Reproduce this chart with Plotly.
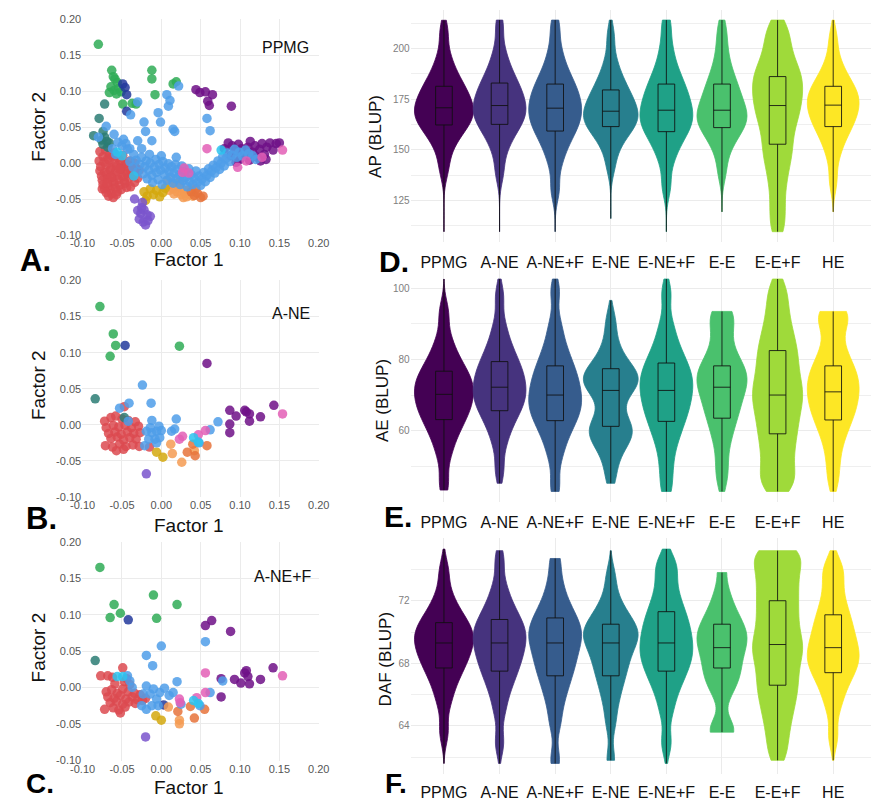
import plotly.graph_objects as go

W, H = 881, 807
FONT = "Liberation Sans, Arial, sans-serif"

# ---------------- data : factor plots ----------------
factor_ticks = [-0.10, -0.05, 0.00, 0.05, 0.10, 0.15, 0.20]
factor_ticktext = ["-0.10", "-0.05", "0.00", "0.05", "0.10", "0.15", "0.20"]

C_RED, C_GREEN, C_DBLUE, C_TEAL = "#dc4a50", "#2fac56", "#233a9c", "#2c7c74"
C_LBLUE, C_CYAN, C_PURPLE, C_PINK = "#4f9de9", "#2cc3ee", "#6f1187", "#e35fb6"
C_YELLOW, C_ORANGE, C_DORANGE, C_LAV = "#d4a80e", "#f59b52", "#e6733b", "#7a55cc"

# Panel A (PPMG)
red_A = [(-0.078, 0.016), (-0.071, 0.018), (-0.066, 0.012), (-0.060, 0.014),
         (-0.074, 0.009), (-0.068, 0.006), (-0.062, 0.010), (-0.055, 0.007), (-0.049, 0.011),
         (-0.079, 0.003), (-0.073, 0.001), (-0.066, 0.004), (-0.059, 0.000), (-0.052, 0.002),
         (-0.046, -0.001), (-0.040, 0.003), (-0.034, 0.000),
         (-0.077, -0.005), (-0.070, -0.003), (-0.064, -0.007), (-0.057, -0.004), (-0.050, -0.006),
         (-0.044, -0.002), (-0.037, -0.005), (-0.031, -0.008),
         (-0.078, -0.011), (-0.072, -0.013), (-0.065, -0.010), (-0.058, -0.012), (-0.051, -0.009),
         (-0.045, -0.014), (-0.039, -0.011), (-0.033, -0.013), (-0.028, -0.010),
         (-0.076, -0.018), (-0.069, -0.016), (-0.063, -0.020), (-0.056, -0.017), (-0.049, -0.019),
         (-0.043, -0.015), (-0.036, -0.018), (-0.030, -0.021),
         (-0.075, -0.024), (-0.068, -0.022), (-0.061, -0.026), (-0.054, -0.023), (-0.047, -0.025),
         (-0.041, -0.021), (-0.034, -0.027),
         (-0.074, -0.030), (-0.067, -0.032), (-0.060, -0.029), (-0.053, -0.031), (-0.046, -0.028),
         (-0.039, -0.033),
         (-0.072, -0.036), (-0.065, -0.038), (-0.058, -0.035), (-0.051, -0.037), (-0.044, -0.034),
         (-0.070, -0.041), (-0.063, -0.043), (-0.056, -0.040),
         (-0.067, -0.046), (-0.061, -0.048),
         (-0.075, -0.036), (-0.057, -0.044), (-0.064, -0.020), (-0.053, -0.008), (-0.069, -0.028)]
green_A = [(-0.080, 0.165), (-0.063, 0.129), (-0.059, 0.117), (-0.056, 0.112), (-0.064, 0.106),
           (-0.060, 0.101), (-0.054, 0.104), (-0.066, 0.098), (-0.057, 0.096), (-0.051, 0.099),
           (-0.049, 0.082), (-0.037, 0.083), (-0.032, 0.082), (-0.012, 0.129), (-0.012, 0.117),
           (-0.008, 0.095), (0.015, 0.110), (0.019, 0.113), (-0.061, 0.120)]
dblue_A = [(-0.049, 0.110), (-0.044, 0.095), (-0.044, 0.072), (-0.046, 0.105)]
teal_A = [(-0.072, 0.082), (-0.079, 0.062), (-0.086, 0.038), (-0.074, 0.044), (-0.072, 0.036),
          (-0.069, 0.030), (-0.074, 0.026), (-0.068, 0.022), (-0.076, 0.032), (-0.066, 0.028)]
orange_A = [(0.008, -0.024), (0.012, -0.030), (0.015, -0.036), (0.018, -0.028), (0.020, -0.040),
            (0.022, -0.033), (0.025, -0.044), (0.027, -0.037), (0.030, -0.042), (0.032, -0.047),
            (0.034, -0.038), (0.036, -0.044), (0.038, -0.035), (0.040, -0.046), (0.016, -0.043),
            (0.010, -0.038), (0.028, -0.048), (0.024, -0.025)]
dorange_A = [(0.038, -0.040), (0.042, -0.045), (0.046, -0.042), (0.050, -0.048), (0.053, -0.046),
             (0.044, -0.036)]
yellow_A = [(-0.022, -0.040), (-0.018, -0.046), (-0.014, -0.036), (-0.010, -0.044), (-0.006, -0.038),
            (-0.002, -0.047), (0.002, -0.041), (0.005, -0.035), (-0.020, -0.052)]
lav_A = [(-0.034, -0.050), (-0.024, -0.055), (-0.030, -0.066), (-0.026, -0.070), (-0.022, -0.065),
         (-0.018, -0.072), (-0.028, -0.078), (-0.023, -0.082), (-0.017, -0.080), (-0.014, -0.074),
         (-0.020, -0.086), (-0.025, -0.062)]
purple_A = [(0.044, 0.102), (0.049, 0.098), (0.056, 0.099), (0.065, 0.095), (0.059, 0.086),
            (0.061, 0.080), (0.089, 0.079),
            (0.080, 0.020), (0.085, 0.028), (0.090, 0.024), (0.094, 0.017), (0.098, 0.026),
            (0.102, 0.020), (0.106, 0.012), (0.110, 0.022), (0.113, 0.030), (0.116, 0.015),
            (0.119, 0.024), (0.122, 0.008), (0.125, 0.019), (0.128, 0.027), (0.131, 0.012),
            (0.134, 0.022), (0.138, 0.028), (0.142, 0.018), (0.146, 0.027), (0.150, 0.028),
            (0.100, 0.005), (0.112, 0.004), (0.126, 0.003), (0.088, 0.010), (0.133, 0.005),
            (0.095, 0.001)]
lblue_A = [(-0.040, 0.002), (-0.036, -0.006), (-0.032, 0.004), (-0.030, -0.012), (-0.027, -0.002),
           (-0.025, 0.008), (-0.023, -0.015), (-0.021, -0.005), (-0.019, 0.003), (-0.018, -0.022),
           (-0.016, -0.010), (-0.014, 0.000), (-0.012, -0.017), (-0.011, -0.027), (-0.009, -0.006),
           (-0.007, 0.005), (-0.006, -0.013), (-0.004, -0.023), (-0.003, -0.002), (-0.001, -0.010),
           (0.001, -0.030), (0.002, 0.002), (0.004, -0.016), (0.005, -0.007), (0.007, -0.024),
           (0.009, -0.001), (0.010, -0.012), (0.012, -0.020), (0.013, -0.005), (0.015, -0.028),
           (0.016, -0.014), (0.018, -0.002), (0.019, -0.022), (0.021, -0.009), (0.023, -0.017),
           (0.024, -0.030), (0.026, -0.004), (0.028, -0.024), (0.029, -0.012), (0.031, -0.020),
           (0.033, -0.033), (0.035, -0.008), (0.036, -0.026), (0.038, -0.016), (0.040, -0.030),
           (0.042, -0.021), (0.044, -0.011), (0.046, -0.027), (0.048, -0.018), (0.050, -0.031),
           (0.052, -0.022), (0.054, -0.013), (0.056, -0.026), (0.058, -0.017), (0.060, -0.008),
           (0.062, -0.020), (0.064, -0.011), (0.066, -0.003), (0.068, -0.014), (0.070, -0.006),
           (0.072, 0.003), (0.074, -0.009), (0.076, 0.000), (0.078, 0.009), (0.080, -0.004),
           (0.082, 0.006), (0.084, 0.014), (0.087, 0.002), (0.090, 0.011), (0.093, 0.019),
           (0.096, 0.008), (0.099, 0.015), (0.103, 0.010), (0.107, 0.018), (0.111, 0.013),
           (0.116, 0.010), (0.120, 0.005),
           (-0.060, 0.040), (-0.070, 0.051), (-0.080, 0.036), (-0.055, 0.029), (-0.050, 0.024),
           (-0.045, 0.027), (-0.043, 0.019), (-0.048, 0.033), (-0.030, 0.031), (-0.012, 0.031),
           (-0.039, 0.067), (-0.030, 0.085), (-0.022, 0.057), (-0.020, 0.044), (-0.004, 0.070),
           (-0.001, 0.057), (0.007, 0.095), (0.011, 0.087), (0.009, 0.079), (0.015, 0.047),
           (0.017, 0.044), (0.022, 0.107), (0.019, 0.008), (0.058, 0.062), (0.062, 0.045),
           (-0.035, 0.012), (-0.040, 0.020), (-0.025, 0.020), (-0.015, 0.012), (0.000, 0.010),
           (-0.058, 0.012), (-0.062, 0.020)]
pink_A = [(0.058, 0.020), (0.029, -0.007), (0.027, -0.013), (0.097, -0.006), (0.128, 0.008),
          (0.154, 0.018), (0.035, -0.014), (0.108, 0.003)]
cyan_A = [(-0.056, 0.015), (-0.035, -0.018), (0.076, 0.018), (-0.050, 0.010)]

# Panel B (A-NE)
red_B = [(-0.072, 0.005), (-0.064, 0.010), (-0.058, 0.012), (-0.050, 0.008), (-0.042, 0.006),
         (-0.033, 0.004), (-0.047, 0.025),
         (-0.070, -0.004), (-0.061, -0.001), (-0.054, -0.003), (-0.046, -0.001), (-0.038, -0.004),
         (-0.029, -0.002),
         (-0.067, -0.012), (-0.059, -0.010), (-0.051, -0.013), (-0.043, -0.010), (-0.035, -0.012),
         (-0.027, -0.011),
         (-0.064, -0.019), (-0.056, -0.017), (-0.048, -0.021), (-0.040, -0.018), (-0.032, -0.020),
         (-0.071, -0.029), (-0.062, -0.031), (-0.053, -0.027), (-0.045, -0.030), (-0.036, -0.028),
         (-0.028, -0.030), (-0.057, -0.036), (-0.048, -0.034), (-0.015, -0.031)]
green_B = [(-0.078, 0.164), (-0.061, 0.126), (-0.058, 0.110), (-0.065, 0.095), (0.023, 0.109)]
dblue_B = [(-0.046, 0.110)]
teal_B = [(-0.084, 0.036), (-0.047, 0.010)]
orange_B = [(0.012, -0.027), (0.014, -0.040), (0.026, -0.052), (0.042, -0.036)]
dorange_B = [(0.033, -0.038), (0.043, -0.043), (0.058, -0.029), (0.040, -0.027)]
yellow_B = [(-0.006, -0.038), (0.002, -0.045)]
lav_B = [(-0.019, -0.068)]
purple_B = [(0.058, 0.085), (0.087, 0.020), (0.095, 0.012), (0.087, 0.001), (0.087, -0.011),
            (0.106, 0.020), (0.108, 0.018), (0.112, 0.015), (0.112, 0.005), (0.126, 0.011),
            (0.143, 0.027)]
lblue_B = [(-0.024, 0.055), (-0.041, 0.030), (-0.053, 0.023), (-0.013, 0.030), (-0.012, 0.006),
           (-0.042, 0.005), (0.019, 0.008), (0.072, 0.004), (0.062, -0.007), (0.013, -0.009),
           (0.017, -0.006), (-0.019, -0.009), (-0.012, -0.011), (-0.006, -0.009), (0.000, -0.008),
           (-0.016, -0.020), (-0.008, -0.020), (-0.002, -0.018), (-0.006, -0.025), (-0.021, -0.029),
           (0.048, -0.025), (-0.014, -0.004), (-0.003, -0.002)]
pink_B = [(0.023, -0.020), (0.027, -0.016), (0.047, -0.014), (0.056, -0.008), (0.154, 0.015)]
cyan_B = [(0.041, -0.018), (0.047, -0.024)]

# Panel C (A-NE+F)
red_C = [(-0.077, 0.016), (-0.068, 0.016), (-0.062, 0.014), (-0.049, 0.027), (-0.047, 0.008),
         (-0.040, 0.004),
         (-0.070, -0.006), (-0.063, -0.003), (-0.056, -0.008), (-0.049, -0.002), (-0.042, -0.006),
         (-0.034, -0.008), (-0.027, -0.010),
         (-0.068, -0.013), (-0.060, -0.015), (-0.052, -0.011), (-0.045, -0.016), (-0.037, -0.013),
         (-0.030, -0.017),
         (-0.065, -0.021), (-0.057, -0.019), (-0.049, -0.023), (-0.041, -0.020), (-0.033, -0.022),
         (-0.072, -0.030), (-0.061, -0.028), (-0.054, -0.031), (-0.046, -0.027), (-0.052, -0.035),
         (-0.059, 0.005), (-0.044, 0.012), (-0.020, -0.015), (-0.024, -0.018)]
green_C = [(-0.078, 0.165), (-0.060, 0.114), (-0.065, 0.096), (-0.052, 0.102), (-0.010, 0.127),
           (-0.006, 0.095), (0.020, 0.114)]
dblue_C = [(-0.042, 0.093), (0.003, -0.024)]
teal_C = [(-0.084, 0.037)]
orange_C = [(0.009, -0.027), (0.023, -0.045), (0.023, -0.050)]
dorange_C = [(0.021, -0.033), (0.037, -0.026), (0.042, -0.042), (0.055, -0.030)]
yellow_C = [(-0.007, -0.039), (0.000, -0.045)]
lav_C = [(-0.020, -0.068)]
purple_C = [(0.056, 0.085), (0.064, 0.092), (0.088, 0.077), (0.076, 0.012), (0.076, -0.013),
            (0.093, 0.011), (0.101, 0.006), (0.106, 0.020), (0.108, 0.023), (0.110, 0.015),
            (0.112, 0.005), (0.126, 0.011), (0.142, 0.027)]
lblue_C = [(0.000, 0.057), (-0.019, 0.044), (-0.011, 0.030), (0.056, 0.063), (0.020, 0.008),
           (0.078, 0.009), (0.062, -0.007), (-0.043, 0.016), (-0.040, 0.009), (-0.019, 0.002),
           (-0.010, -0.002), (-0.002, -0.007), (0.004, -0.001), (-0.023, -0.009), (-0.014, -0.009),
           (-0.006, -0.016), (-0.025, -0.025), (-0.019, -0.030), (-0.012, -0.025), (-0.004, -0.025),
           (0.010, -0.011), (0.015, -0.007), (0.025, -0.023), (0.049, -0.025), (-0.037, 0.000)]
pink_C = [(0.056, 0.020), (0.056, -0.007), (0.154, 0.016), (0.023, -0.016), (0.045, -0.014),
          (0.024, -0.021)]
cyan_C = [(-0.056, 0.015), (-0.049, 0.015), (0.041, -0.018), (0.047, -0.022)]

# ---------------- data : violin plots ----------------
groups = ["PPMG", "A-NE", "A-NE+F", "E-NE", "E-NE+F", "E-E", "E-E+F", "HE"]
viridis8 = ["#440154", "#46337E", "#365C8D", "#277F8E", "#1FA187", "#4AC16D", "#9FDA3A", "#FDE725"]

ap_PPMG = [140.5, 149.9, 154.9, 158.2, 160.7, 162.8, 164.5, 166.2, 167.7, 169.2, 170.7,
           172.6, 174.5, 176.4, 178.4, 180.6, 183.1, 186.2, 190.3, 196.6, 208.4]
ap_ANE = [138.7, 149.0, 154.5, 158.1, 160.9, 163.1, 165.0, 166.8, 168.5, 170.1, 171.8,
          173.8, 175.8, 177.7, 179.9, 182.2, 184.8, 188.1, 192.4, 199.0, 211.4]
ap_ANEF = [130.2, 142.8, 149.5, 153.9, 157.2, 159.9, 162.3, 164.5, 166.5, 168.5, 170.5,
           172.6, 174.7, 176.9, 179.2, 181.7, 184.5, 188.0, 192.6, 199.7, 211.0]
ap_ENE = [141.9, 150.4, 154.9, 157.8, 160.1, 161.9, 163.5, 164.9, 166.3, 167.6, 169.0,
          170.9, 172.7, 174.6, 176.6, 178.8, 181.3, 184.4, 188.5, 194.7, 206.4]
ap_ENEF = [131.8, 143.6, 149.9, 154.0, 157.1, 159.6, 161.8, 163.8, 165.7, 167.6, 169.5,
           171.8, 174.1, 176.4, 178.9, 181.5, 184.6, 188.4, 193.4, 201.0, 212.0]
ap_EE = [138.8, 148.4, 153.5, 156.8, 159.4, 161.4, 163.2, 164.9, 166.4, 168.0, 169.5,
         171.8, 174.1, 176.4, 178.9, 181.5, 184.6, 188.4, 193.4, 201.0, 210.0]
ap_EEF = [112.0, 122.0, 132.0, 140.0, 146.0, 151.0, 156.0, 161.0, 165.0, 168.5, 171.8,
          175.0, 178.0, 181.0, 184.0, 187.0, 190.0, 194.0, 199.0, 205.0, 211.0]
ap_HE = [134.3, 146.1, 152.4, 156.5, 159.6, 162.1, 164.3, 166.3, 168.2, 170.1, 172.0,
         173.7, 175.3, 177.0, 178.8, 180.7, 182.9, 185.7, 189.3, 194.8, 205.1]

ae_PPMG = [45.0, 52.9, 57.1, 59.8, 61.9, 63.6, 65.1, 66.4, 67.7, 68.9, 70.2,
           71.4, 72.5, 73.7, 74.9, 76.2, 77.8, 79.7, 82.2, 86.0, 93.2]
ae_ANE = [48.7, 56.0, 59.9, 62.5, 64.5, 66.0, 67.4, 68.7, 69.8, 71.0, 72.2,
          73.5, 74.8, 76.1, 77.4, 78.9, 80.7, 82.8, 85.6, 89.9, 97.9]
ae_ANEF = [44.3, 52.3, 56.6, 59.4, 61.5, 63.3, 64.8, 66.1, 67.4, 68.7, 70.0,
           71.5, 72.9, 74.4, 76.0, 77.7, 79.6, 82.1, 85.3, 90.1, 99.3]
ae_ENE = [47.0, 52.5, 55.5, 57.5, 59.0, 60.0, 61.0, 62.3, 65.0, 68.5, 71.3,
          72.3, 73.2, 74.1, 75.0, 76.0, 77.2, 78.8, 81.0, 85.0, 91.0]
ae_ENEF = [44.0, 50.0, 55.2, 58.5, 61.1, 63.2, 65.0, 66.7, 68.2, 69.8, 71.3,
           72.7, 74.0, 75.4, 76.9, 78.5, 80.3, 82.6, 85.6, 90.1, 98.7]
ae_EE = [46.0, 50.9, 56.1, 59.4, 62.0, 64.1, 65.9, 67.6, 69.1, 70.7, 72.2,
         73.3, 74.3, 75.4, 76.6, 77.8, 79.2, 81.0, 83.3, 86.9, 90.0, 92.5, 93.5]
ae_EEF = [44.0, 46.0, 49.0, 52.5, 55.5, 58.5, 61.0, 63.5, 66.0, 68.0, 70.0,
          72.0, 74.0, 76.5, 79.0, 81.5, 84.0, 87.0, 90.5, 95.0, 100.0]
ae_HE = [46.0, 51.6, 56.3, 59.3, 61.7, 63.5, 65.2, 66.7, 68.1, 69.5, 70.9,
         72.2, 73.5, 74.8, 76.2, 77.7, 79.4, 81.6, 84.4, 88.7, 91.5, 93.0, 93.5]

daf_PPMG = [63.6, 65.4, 66.3, 66.95, 67.43, 67.81, 68.14, 68.45, 68.73, 69.02, 69.3,
            69.53, 69.76, 69.99, 70.25, 70.52, 70.82, 71.21, 71.71, 72.48, 73.93]
daf_ANE = [62.9, 64.9, 66.0, 66.66, 67.19, 67.62, 67.99, 68.34, 68.66, 68.98, 69.3,
           69.57, 69.84, 70.10, 70.39, 70.70, 71.06, 71.51, 72.09, 72.98, 74.65]
daf_ANEF = [61.8, 64.15, 65.4, 66.21, 66.84, 67.33, 67.77, 68.18, 68.55, 68.93, 69.3,
            69.58, 69.87, 70.15, 70.46, 70.79, 71.17, 71.65, 72.26, 73.21, 74.6]
daf_ENE = [61.8, 64.15, 65.4, 66.21, 66.84, 67.33, 67.77, 68.18, 68.55, 68.93, 69.3,
           69.51, 69.73, 69.94, 70.17, 70.42, 70.71, 71.06, 71.53, 72.24, 73.57]
daf_ENEF = [62.9, 64.9, 66.0, 66.66, 67.19, 67.62, 67.99, 68.34, 68.66, 68.98, 69.3,
            69.66, 70.01, 70.37, 70.76, 71.17, 71.65, 72.24, 73.01, 74.0, 74.5]
daf_EE = [63.6, 63.7, 63.8, 65.9, 66.6, 67.0, 67.4, 67.8, 68.2, 68.6, 69.0,
          69.27, 69.54, 69.8, 70.09, 70.41, 70.76, 71.21, 71.79, 72.68, 74.35]
daf_EEF = [62.2, 63.4, 64.4, 65.2, 65.9, 66.5, 67.1, 67.7, 68.3, 68.8, 69.2,
           69.7, 70.3, 70.9, 71.5, 72.1, 72.7, 73.3, 73.9, 74.5, 75.0, 75.2]
daf_HE = [63.3, 65.1, 66.0, 66.65, 67.13, 67.51, 67.84, 68.15, 68.43, 68.72, 69.0,
          69.37, 69.75, 70.12, 70.53, 70.97, 71.46, 72.09, 72.9, 73.8, 74.3]

# box summaries (whiskers = data range)
ap_q1 = [162.2, 162.5, 159.2, 161.4, 158.9, 160.9, 152.7, 161.4]
ap_med = [170.7, 171.8, 170.5, 169.0, 169.5, 169.5, 171.8, 172.0]
ap_q3 = [181.3, 182.9, 182.4, 179.5, 182.4, 182.4, 186.1, 181.3]
ap_lo = [109.5, 109.5, 109.5, 116.0, 109.5, 119.3, 109.5, 119.3]
ap_hi = [213.9, 214.0, 214.0, 214.0, 214.0, 214.0, 214.0, 214.0]

ae_q1 = [63.1, 65.6, 62.8, 61.2, 62.6, 63.5, 59.1, 63.0]
ae_med = [70.2, 72.2, 70.0, 71.3, 71.3, 72.2, 70.0, 70.9]
ae_q3 = [76.7, 79.4, 78.2, 77.4, 79.0, 78.2, 82.5, 78.2]
ae_lo = [43.3, 45.2, 42.9, 45.2, 42.9, 42.9, 42.9, 42.9]
ae_hi = [102.6, 102.6, 102.6, 96.6, 102.6, 93.5, 102.6, 93.5]

daf_q1 = [67.7, 67.5, 67.2, 67.2, 67.5, 67.7, 66.6, 67.4]
daf_med = [69.3, 69.3, 69.3, 69.3, 69.3, 69.0, 69.2, 69.0]
daf_q3 = [70.6, 70.8, 70.9, 70.5, 71.3, 70.5, 72.0, 71.1]
daf_lo = [61.6, 61.6, 61.6, 61.8, 61.6, 63.6, 61.8, 61.8]
daf_hi = [75.3, 75.2, 74.7, 75.2, 75.3, 73.8, 75.2, 75.2]

ap_ticks = [125, 150, 175, 200]
ae_ticks = [60, 80, 100]
daf_ticks = [64, 68, 72]

# ---------------- figure ----------------
fig = go.Figure()


def fx(px):
    return px / W


def fy(py):
    return 1 - py / H


scatter_layers = {
    "A": [(red_A, C_RED), (green_A, C_GREEN), (teal_A, C_TEAL), (dblue_A, C_DBLUE),
          (orange_A, C_ORANGE), (dorange_A, C_DORANGE), (yellow_A, C_YELLOW), (lav_A, C_LAV),
          (purple_A, C_PURPLE), (lblue_A, C_LBLUE), (pink_A, C_PINK), (cyan_A, C_CYAN)],
    "B": [(red_B, C_RED), (green_B, C_GREEN), (teal_B, C_TEAL), (dblue_B, C_DBLUE),
          (orange_B, C_ORANGE), (dorange_B, C_DORANGE), (yellow_B, C_YELLOW), (lav_B, C_LAV),
          (purple_B, C_PURPLE), (lblue_B, C_LBLUE), (pink_B, C_PINK), (cyan_B, C_CYAN)],
    "C": [(red_C, C_RED), (green_C, C_GREEN), (teal_C, C_TEAL), (dblue_C, C_DBLUE),
          (orange_C, C_ORANGE), (dorange_C, C_DORANGE), (yellow_C, C_YELLOW), (lav_C, C_LAV),
          (purple_C, C_PURPLE), (lblue_C, C_LBLUE), (pink_C, C_PINK), (cyan_C, C_CYAN)],
}

scatter_boxes = {"A": (13, 232.5), "B": (278, 498), "C": (543, 765)}
axis_ids = {"A": "", "B": "2", "C": "3"}

for key, layers in scatter_layers.items():
    aid = axis_ids[key]
    for pts, col in layers:
        fig.add_trace(go.Scatter(
            x=[p[0] for p in pts], y=[p[1] for p in pts], mode="markers",
            marker=dict(size=9.5, color=col, opacity=0.85, line=dict(width=0)),
            xaxis="x" + aid, yaxis="y" + aid, showlegend=False, hoverinfo="skip"))

violin_width = [1.06, 0.95, 0.95, 0.98, 0.95, 0.9, 0.9, 0.93]

violin_sets = [
    ("4", [ap_PPMG, ap_ANE, ap_ANEF, ap_ENE, ap_ENEF, ap_EE, ap_EEF, ap_HE], 6.0,
     (ap_q1, ap_med, ap_q3, ap_lo, ap_hi)),
    ("5", [ae_PPMG, ae_ANE, ae_ANEF, ae_ENE, ae_ENEF, ae_EE, ae_EEF, ae_HE], 3.6,
     (ae_q1, ae_med, ae_q3, ae_lo, ae_hi)),
    ("6", [daf_PPMG, daf_ANE, daf_ANEF, daf_ENE, daf_ENEF, daf_EE, daf_EEF, daf_HE], 0.8,
     (daf_q1, daf_med, daf_q3, daf_lo, daf_hi)),
]

for aid, samples, bw, stats in violin_sets:
    q1, med, q3, lo, hi = stats
    for i, (g, vals, col) in enumerate(zip(groups, samples, viridis8)):
        fig.add_trace(go.Violin(
            x0=g, y=vals, name=g, spanmode="manual", span=[lo[i], hi[i]],
            bandwidth=bw, width=violin_width[i],
            scalemode="width", scalegroup=aid + g,
            fillcolor=col, line=dict(color=col, width=0.8), opacity=1,
            points=False, box_visible=False, meanline_visible=False,
            xaxis="x" + aid, yaxis="y" + aid, showlegend=False, hoverinfo="skip"))
    fig.add_trace(go.Box(
        x=groups, q1=q1, median=med, q3=q3, lowerfence=lo, upperfence=hi,
        width=0.3, whiskerwidth=0, boxpoints=False,
        fillcolor="rgba(0,0,0,0)", line=dict(color="rgba(15,15,15,0.85)", width=1),
        xaxis="x" + aid, yaxis="y" + aid, showlegend=False, hoverinfo="skip"))

grid = "#ebebeb"
layout = dict(
    width=W, height=H, margin=dict(l=0, r=0, t=0, b=0),
    paper_bgcolor="white", plot_bgcolor="white",
    font=dict(family=FONT, color="#222222"),
    violinmode="overlay", boxmode="overlay", showlegend=False,
)

for key, (top, bot) in scatter_boxes.items():
    aid = axis_ids[key]
    layout["xaxis" + aid] = dict(
        domain=[fx(72), fx(315)], range=[-0.1005, 0.2005], anchor="y" + aid,
        tickvals=factor_ticks, ticktext=factor_ticktext, showgrid=True, gridcolor=grid,
        gridwidth=1, zeroline=False, showline=False, ticks="",
        tickfont=dict(size=11, color="#555555", family=FONT))
    layout["yaxis" + aid] = dict(
        domain=[fy(bot), fy(top)], range=[-0.1005, 0.2005], anchor="x" + aid,
        tickvals=factor_ticks, ticktext=factor_ticktext, showgrid=True, gridcolor=grid,
        gridwidth=1, zeroline=False, showline=False, ticks="",
        tickfont=dict(size=11, color="#555555", family=FONT))

violin_axes = [
    ("4", (3.6, 239.5), [104.3, 219.2], ap_ticks, 12.5, 6),
    ("5", (266, 503), [39.9, 105.6], ae_ticks, 10, 6),
    ("6", (539.5, 779), [60.9, 76.0], daf_ticks, 2, 3),
]
for aid, (top, bot), yr, yt, mdt, tl in violin_axes:
    layout["xaxis" + aid] = dict(
        domain=[fx(408.8), 1.0], range=[-0.6, 7.68], anchor="y" + aid, type="category",
        categoryorder="array", categoryarray=groups, showgrid=True, gridcolor=grid,
        zeroline=False, showline=False, ticks="outside", ticklen=tl,
        tickcolor="rgba(0,0,0,0)", tickfont=dict(size=16, color="#111111", family=FONT))
    layout["yaxis" + aid] = dict(
        domain=[fy(bot), fy(top)], range=yr, anchor="x" + aid, tickvals=yt,
        showgrid=True, gridcolor=grid, zeroline=False, showline=False, ticks="",
        minor=dict(dtick=mdt, tick0=0, showgrid=True, gridcolor="#efefef", gridwidth=1),
        tickfont=dict(size=10, color="#808080", family=FONT))

fig.update_layout(**layout)

ann = []


def text(px, py, s, size, bold=False, angle=0, xanchor="center", yanchor="middle",
         color="#111111"):
    ann.append(dict(x=fx(px), y=fy(py), xref="paper", yref="paper",
                    text=("<b>%s</b>" % s) if bold else s,
                    showarrow=False, textangle=angle, xanchor=xanchor, yanchor=yanchor,
                    font=dict(size=size, family=FONT, color=color)))


# panel letters
text(24, 258, "A.", 31, bold=True, color="#000000")
text(30, 520, "B.", 31, bold=True, color="#000000")
text(29, 806, "C.", 28, bold=True, color="#000000", yanchor="bottom")
text(392, 259, "D.", 30, bold=True, color="#000000")
text(396, 518, "E.", 30, bold=True, color="#000000")
text(394, 806, "F.", 28, bold=True, color="#000000", yanchor="bottom")

# panel names
text(307, 42, "PPMG", 16, xanchor="right")
text(308, 312, "A-NE", 16, xanchor="right")
text(310, 578, "A-NE+F", 16, xanchor="right")

# axis titles
for py in (122, 384, 650):
    text(27, py, "Factor 2", 19, angle=-90)
for py in (257, 527, 792):
    text(182, py, "Factor 1", 19)
text(373, 132, "AP (BLUP)", 17, angle=-90)
text(380, 400, "AE (BLUP)", 17, angle=-90)
text(384, 662, "DAF (BLUP)", 17, angle=-90)

fig.update_layout(annotations=ann)
fig.write_html("out.html", config={"displayModeBar": False},
               post_script="document.body.style.margin='0';")
